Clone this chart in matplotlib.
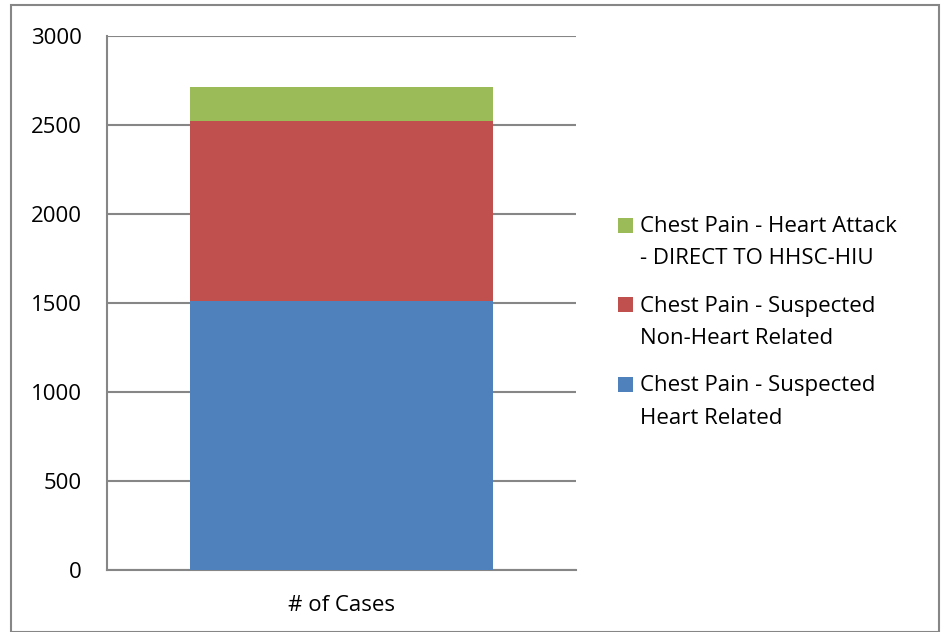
import matplotlib.pyplot as plt
from matplotlib.patches import Rectangle

# Datos
categoria = ["# of Cases"]
series = [
    "Chest Pain - Suspected\nHeart Related",
    "Chest Pain - Suspected\nNon-Heart Related",
    "Chest Pain - Heart Attack\n- DIRECT TO HHSC-HIU",
]
valores = [1509, 1013, 191]
colores = ["#4F81BD", "#C0504D", "#9BBB59"]
yticks = [0, 500, 1000, 1500, 2000, 2500, 3000]

plt.rcParams["font.family"] = ["Open Sans", "DejaVu Sans"]
gris = "#868686"
W, H = 941, 632
fs = 16

fig = plt.figure(figsize=(W / 100, H / 100), dpi=100)
ax = fig.add_axes([107 / W, 1 - 570 / H, 469 / W, 534 / H])

base = 0
for v, c in zip(valores, colores):
    ax.bar(categoria, [v], bottom=base, width=0.646, color=c, zorder=3)
    base += v

ax.set_xlim(-0.5, 0.5)
ax.set_ylim(0, 3000)
ax.set_yticks(yticks)
ax.yaxis.grid(True, color=gris, linewidth=1.5, zorder=0)
ax.tick_params(axis="y", length=0, labelsize=fs, pad=18)
ax.tick_params(axis="x", length=0, labelsize=fs, pad=18)
for s in ["top", "right"]:
    ax.spines[s].set_visible(False)
for s in ["left", "bottom"]:
    ax.spines[s].set_color(gris)
    ax.spines[s].set_linewidth(1.5)

# leyenda manual (orden inverso, como en Excel)
for i, (lab, c) in enumerate(zip(series[::-1], colores[::-1])):
    y0 = 225 + 79.5 * i
    fig.patches.append(Rectangle((618 / W, 1 - (y0 + 7.5) / H), 15 / W, 15 / H,
                                 transform=fig.transFigure, facecolor=c, edgecolor="none"))
    for j, linea in enumerate(lab.split("\n")):
        fig.text(640 / W, 1 - (y0 + 2 + 32 * j) / H, linea, fontsize=fs, va="center", ha="left")

# marco exterior
fig.patches.append(Rectangle((11 / W, 0), 928 / W, 1 - 5 / H, transform=fig.transFigure,
                             fill=False, edgecolor=gris, linewidth=1.5))

fig.savefig("out.png", dpi=100)
